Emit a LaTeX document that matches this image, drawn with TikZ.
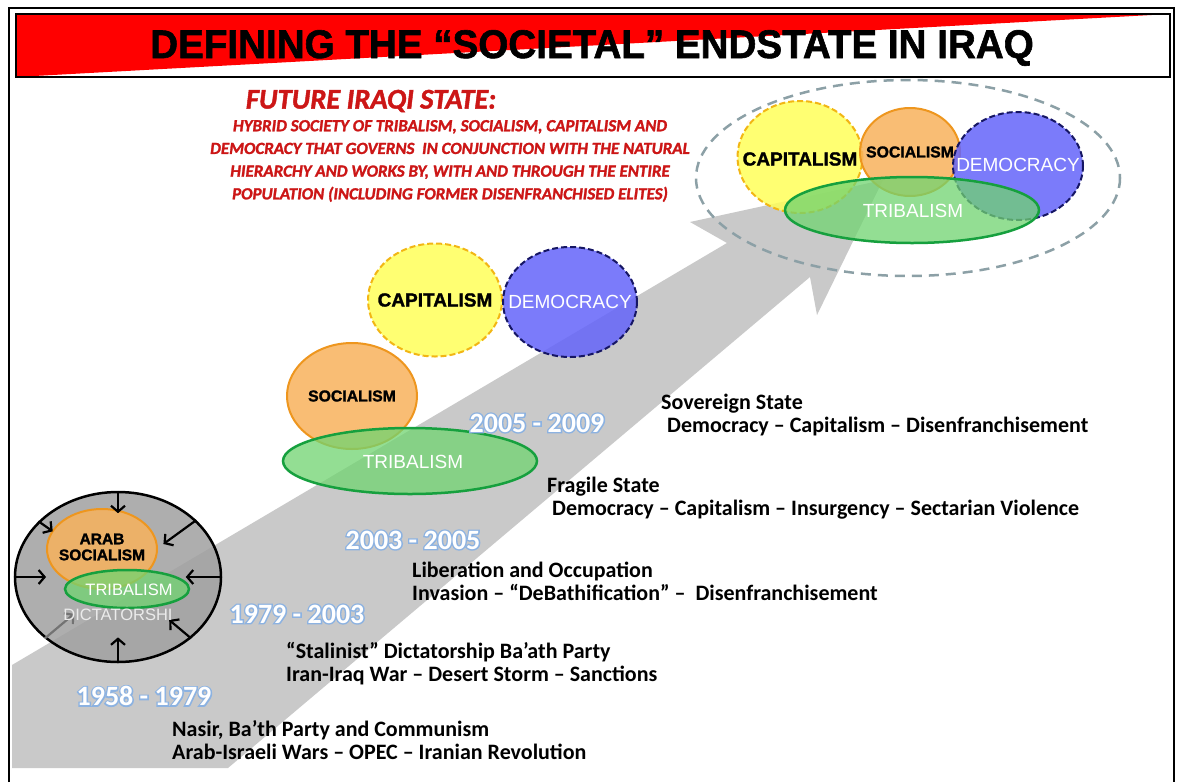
\documentclass[tikz,border=0pt]{standalone}
\usepackage{fontspec}
\setmainfont{Carlito}
\newfontfamily\arialfont{Liberation Sans}
\newfontfamily\heavyfont[FakeBold=1.5]{Liberation Sans Bold}
\newfontfamily\glowfont[FakeBold=10]{Carlito Bold}
\newfontfamily\redfont[FakeBold=1.5]{Carlito Bold Italic}
\usetikzlibrary{shapes.geometric,calc,arrows.meta}

\definecolor{bandgray}{RGB}{201,201,201}
\definecolor{titlered}{RGB}{255,0,0}
\definecolor{textred}{RGB}{204,22,22}
\definecolor{capfill}{RGB}{255,255,90}
\definecolor{capline}{RGB}{242,182,20}
\definecolor{socfill}{RGB}{248,178,92}
\definecolor{socline}{RGB}{238,150,30}
\definecolor{demfill}{RGB}{100,100,250}
\definecolor{demline}{RGB}{22,22,100}
\definecolor{tribfill}{RGB}{112,212,112}
\definecolor{tribline}{RGB}{22,160,62}
\definecolor{yearblue}{RGB}{140,178,225}
\definecolor{dictgray}{RGB}{160,160,160}
\definecolor{ringgray}{RGB}{140,160,166}

\tikzset{
  blob/.style={ellipse, inner sep=0pt, line width=2pt, fill opacity=0.85},
  capblob/.style={blob, fill=capfill, draw=capline, dash pattern=on 6pt off 3pt},
  socblob/.style={blob, fill=socfill, draw=socline},
  demblob/.style={blob, fill=demfill, draw=demline, dash pattern=on 6pt off 3pt},
  tribblob/.style={blob, fill=tribfill, draw=tribline, line width=2.5pt, fill opacity=0.75},
  darklab/.style={font=\heavyfont\fontsize{19}{19}\selectfont, text=black},
  smalllab/.style={font=\heavyfont\fontsize{15.8}{16}\selectfont, text=black},
  lightlab/.style={font=\arialfont\fontsize{19}{19}\selectfont, text=white},
  yeartext/.style={font=\bfseries\fontsize{28}{28}\selectfont, text=white},
  yearglow/.style={font=\glowfont\fontsize{28}{28}\selectfont, text=yearblue},
  eventtext/.style={anchor=west, align=left, inner sep=0pt,
    font=\bfseries\fontsize{22}{23}\selectfont},
  circarrow/.style={->, line width=2.2pt},
}

\newcommand{\yearlabel}[3]{%
  \node[yearglow] at (#2) {#3};
  \node[yeartext] (#1) at (#2) {#3};}

\begin{document}
\begin{tikzpicture}[x=1pt, y=-1pt, >={Straight Barb[length=6pt,width=14pt]}]
  \useasboundingbox (0,0) rectangle (1178,782);
  \fill[white] (0,0) rectangle (1178,782);

  %% Timeline band
  \fill[bandgray] (12,768) -- (228,768) -- (810,277) -- (817,315) -- (883,180)
    -- (690,222) -- (727,243) -- (12,665) -- cycle;

  %% 1958 - 1979
  \node[ellipse, minimum width=206pt, minimum height=170pt, fill=dictgray,
    fill opacity=0.85, draw=black, line width=2.5pt] (dict) at (118,577) {};
  \node[socblob, minimum width=110pt, minimum height=80pt] (arab) at (102,549) {};
  \node[tribblob, minimum width=124pt, minimum height=38pt] (tribL) at (127,589) {};
  \foreach \ang/\len in {90/0.26, 36/0.42, 0/0.35, -40/0.3, -90/0.3, 180/0.31, 145/0.18}
    \draw[circarrow] (dict.\ang) -- ($(dict.\ang)!\len!(dict.center)$);
  \draw[circarrow, draw=black!55] (dict.220) -- ($(dict.220)!0.4!(dict.center)$);
  \node[align=center, font=\heavyfont\fontsize{15.5}{16}\selectfont] at (102,547) {ARAB\\SOCIALISM};
  \node[lightlab, font=\arialfont\fontsize{16.5}{16.5}\selectfont] at (129,590) {TRIBALISM};
  \node[lightlab, font=\arialfont\fontsize{16.5}{16.5}\selectfont, text=white!92!black] at (118,615) {DICTATORSHI};

  %% 2005 - 2009
  \node[capblob, minimum width=134pt, minimum height=113pt] (capM) at (435,300) {};
  \node[demblob, minimum width=134pt, minimum height=110pt] (demM) at (570,302) {};
  \node[socblob, minimum width=130pt, minimum height=106pt] (socM) at (352,396) {};
  \node[tribblob, minimum width=254pt, minimum height=66pt] (tribM) at (410,461) {};
  \node[darklab] at (capM) {CAPITALISM};
  \node[lightlab] at (demM) {DEMOCRACY};
  \node[smalllab] at (socM) {SOCIALISM};
  \node[lightlab] at (413,462) {TRIBALISM};

  %% Future state
  \draw[ringgray, line width=2.5pt, dash pattern=on 10pt off 7pt] (908,178) ellipse (212 and 98);
  \node[capblob, minimum width=125pt, minimum height=112pt] (capT) at (800,157) {};
  \node[socblob, minimum width=100pt, minimum height=88pt] (socT) at (910,152) {};
  \node[demblob, minimum width=130pt, minimum height=108pt] (demT) at (1018,166) {};
  \node[tribblob, minimum width=254pt, minimum height=66pt] (tribT) at (912,210) {};
  \node[darklab] at (800,159) {CAPITALISM};
  \node[smalllab] at (910,152) {SOCIALISM};
  \node[lightlab] at (1018,165) {DEMOCRACY};
  \node[lightlab] at (913,211) {TRIBALISM};

  %% Years
  \yearlabel{y58}{144,696}{1958 - 1979}
  \yearlabel{y79}{297,614}{1979 - 2003}
  \yearlabel{y03}{413,540}{2003 - 2005}
  \yearlabel{y05}{537,423}{2005 - 2009}

  %% Events
  \node[eventtext] (nas) at (172,740) {Nasir, Ba’th Party and Communism\\Arab-Israeli Wars – OPEC – Iranian Revolution};
  \node[eventtext] (stal) at (286,664) {“Stalinist” Dictatorship Ba’ath Party\\Iran-Iraq War – Desert Storm – Sanctions};
  \node[eventtext] (lib) at (412,581) {Liberation and Occupation\\Invasion – “DeBathification” –\ \ Disenfranchisement};
  \node[eventtext] (frag) at (547,498) {Fragile State\\\hspace*{5pt}Democracy – Capitalism – Insurgency – Sectarian Violence};
  \node[eventtext] (sov) at (661,415) {Sovereign State\\\hspace*{6pt}Democracy – Capitalism – Disenfranchisement};

  %% End state text
  \node[text=textred, font=\redfont\fontsize{28.5}{28.5}\selectfont] (fut) at (371,101) {FUTURE IRAQI STATE:};
  \node[text=textred, align=center, font=\redfont\fontsize{17}{22.7}\selectfont] (hyb) at (450,161)
    {HYBRID SOCIETY OF TRIBALISM, SOCIALISM, CAPITALISM AND\\
     DEMOCRACY THAT GOVERNS\ \ IN CONJUNCTION WITH THE NATURAL\\
     HIERARCHY AND WORKS BY, WITH AND THROUGH THE ENTIRE\\
     POPULATION (INCLUDING FORMER DISENFRANCHISED ELITES)};

  %% Title
  \fill[titlered] (16,14) -- (1170,14) -- (16,77) -- cycle;
  \draw[line width=1.2pt] (16,14) rectangle (1170,77);
  \node[font=\heavyfont\fontsize{40}{40}\selectfont] (title) at (592,48)
    {\scalebox{0.965}[1]{DEFINING THE “SOCIETAL” ENDSTATE IN IRAQ}};

  %% Frame
  \draw[line width=2.5pt] (9,782) -- (9,8) -- (1174,8) -- (1174,782);
\end{tikzpicture}
\end{document}
